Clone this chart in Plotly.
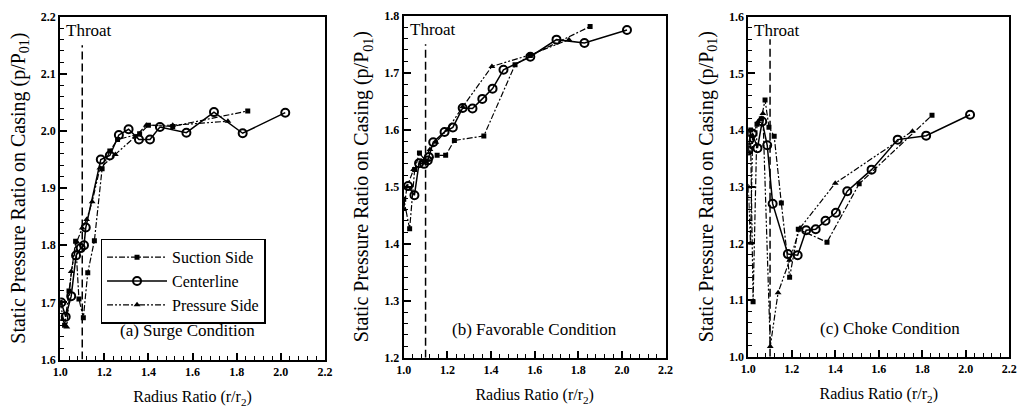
import plotly.graph_objects as go

# ---------------- data ----------------
# (a) Surge condition
a_suc_x = [1.0, 1.02, 1.04, 1.07, 1.085, 1.105, 1.125, 1.155, 1.19, 1.225, 1.26, 1.36, 1.40, 1.51, 1.85]
a_suc_y = [1.70, 1.66, 1.72, 1.807, 1.706, 1.673, 1.752, 1.808, 1.934, 1.965, 1.985, 1.995, 2.01, 2.008, 2.035]
a_cen_x = [1.005, 1.025, 1.05, 1.072, 1.093, 1.108, 1.116, 1.184, 1.225, 1.266, 1.31, 1.357, 1.407, 1.452, 1.572, 1.697, 1.827, 2.02]
a_cen_y = [1.70, 1.675, 1.711, 1.782, 1.795, 1.80, 1.831, 1.95, 1.957, 1.993, 2.003, 1.985, 1.985, 2.007, 1.997, 2.033, 1.996, 2.032]
a_pre_x = [1.01, 1.03, 1.05, 1.075, 1.10, 1.12, 1.145, 1.18, 1.25, 1.34, 1.39, 1.51, 1.76]
a_pre_y = [1.67, 1.657, 1.754, 1.806, 1.83, 1.845, 1.876, 1.935, 1.959, 1.99, 2.01, 2.01, 2.017]

# (b) Favorable condition
b_suc_x = [1.0, 1.027, 1.05, 1.072, 1.10, 1.153, 1.192, 1.232, 1.367, 1.51, 1.58, 1.854]
b_suc_y = [1.478, 1.426, 1.53, 1.559, 1.545, 1.555, 1.555, 1.581, 1.589, 1.714, 1.73, 1.781]
b_cen_x = [1.02, 1.049, 1.07, 1.093, 1.11, 1.115, 1.135, 1.187, 1.225, 1.27, 1.315, 1.36, 1.407, 1.457, 1.58, 1.70, 1.828, 2.023]
b_cen_y = [1.501, 1.485, 1.541, 1.54, 1.546, 1.552, 1.578, 1.596, 1.604, 1.638, 1.637, 1.654, 1.672, 1.705, 1.728, 1.758, 1.752, 1.775]
b_pre_x = [1.0, 1.015, 1.045, 1.08, 1.12, 1.147, 1.20, 1.27, 1.404, 1.577, 1.757]
b_pre_y = [1.46, 1.50, 1.53, 1.545, 1.565, 1.578, 1.60, 1.64, 1.711, 1.731, 1.758]

# (c) Choke condition
c_suc_x = [1.0, 1.01, 1.022, 1.04, 1.06, 1.077, 1.095, 1.119, 1.152, 1.19, 1.23, 1.362, 1.51, 1.845]
c_suc_y = [1.36, 1.40, 1.097, 1.41, 1.42, 1.453, 1.405, 1.389, 1.271, 1.14, 1.225, 1.202, 1.305, 1.426]
c_cen_x = [1.0, 1.005, 1.019, 1.042, 1.064, 1.087, 1.112, 1.182, 1.227, 1.266, 1.31, 1.355, 1.403, 1.455, 1.567, 1.687, 1.818, 2.02]
c_cen_y = [1.364, 1.383, 1.394, 1.368, 1.415, 1.373, 1.27, 1.181, 1.179, 1.223, 1.225, 1.24, 1.254, 1.292, 1.33, 1.383, 1.39, 1.427]
c_pre_x = [1.0, 1.01, 1.02, 1.045, 1.067, 1.101, 1.137, 1.19, 1.238, 1.40, 1.755]
c_pre_y = [1.30, 1.20, 1.39, 1.415, 1.429, 1.018, 1.113, 1.17, 1.227, 1.306, 1.398]

series_names = ["Suction Side", "Centerline", "Pressure Side"]
panel_labels = ["(a) Surge Condition", "(b) Favorable Condition", "(c) Choke Condition"]
x_ticks = [1.0, 1.2, 1.4, 1.6, 1.8, 2.0, 2.2]
y_ranges = [(1.6, 2.2), (1.2, 1.8), (1.0, 1.6)]
throat_x = 1.1
throat_top = [2.15, 1.75, 1.56]
label_pos = [(1.575, 1.657), (1.6, 1.256), (1.65, 1.056)]

panels = [
    (a_suc_x, a_suc_y, a_cen_x, a_cen_y, a_pre_x, a_pre_y),
    (b_suc_x, b_suc_y, b_cen_x, b_cen_y, b_pre_x, b_pre_y),
    (c_suc_x, c_suc_y, c_cen_x, c_cen_y, c_pre_x, c_pre_y),
]

# ---------------- figure ----------------
W, H = 1029, 411
xdoms = [(53 / W, 322 / W), (402 / W, 668 / W), (752 / W, 1017 / W)]
ydoms = [(1 - 365 / H, 1 - 10 / H), (1 - 363 / H, 1 - 9 / H), (1 - 362 / H, 1 - 10 / H)]

FONT = "'Liberation Serif', 'Times New Roman', Times, serif"
fig = go.Figure()

for i, (sx, sy, cx, cy, px, py) in enumerate(panels):
    xa = "x" if i == 0 else f"x{i+1}"
    ya = "y" if i == 0 else f"y{i+1}"
    show = i == 0
    fig.add_trace(go.Scatter(
        x=sx, y=sy, mode="lines+markers", name=series_names[0], xaxis=xa, yaxis=ya,
        line=dict(color="black", width=1.2, dash="6px,2px,2px,2px"),
        marker=dict(symbol="square", size=5, color="black"), showlegend=show))
    fig.add_trace(go.Scatter(
        x=cx, y=cy, mode="lines+markers", name=series_names[1], xaxis=xa, yaxis=ya,
        line=dict(color="black", width=1.5),
        marker=dict(symbol="circle-open", size=8, color="black", line=dict(width=2)),
        showlegend=show))
    fig.add_trace(go.Scatter(
        x=px, y=py, mode="lines+markers", name=series_names[2], xaxis=xa, yaxis=ya,
        line=dict(color="black", width=1.2, dash="6px,2px,2px,2px,2px,2px"),
        marker=dict(symbol="triangle-up", size=6, color="black"), showlegend=show))
    # throat line
    fig.add_trace(go.Scatter(
        x=[throat_x, throat_x], y=[y_ranges[i][0], throat_top[i]], mode="lines",
        xaxis=xa, yaxis=ya, line=dict(color="black", width=1.5, dash="8px,4px"),
        showlegend=False, hoverinfo="skip"))
    fig.add_annotation(x=1.0, y=y_ranges[i][1], xref=xa, yref=ya, text="Throat",
                       showarrow=False, xanchor="left", yanchor="top", yshift=-2, xshift=4,
                       font=dict(family=FONT, size=17, color="black"))
    fig.add_annotation(x=label_pos[i][0], y=label_pos[i][1], xref=xa, yref=ya,
                       text=panel_labels[i], showarrow=False, yshift=-4,
                       font=dict(family=FONT, size=17, color="black"))

    axis_common = dict(showline=True, linecolor="black", linewidth=2, mirror=True,
                       ticks="inside", ticklen=7, tickwidth=1.5, tickcolor="black",
                       showgrid=False, zeroline=False,
                       tickfont=dict(family=FONT, size=12, color="black", weight="bold"))
    xkey = "xaxis" if i == 0 else f"xaxis{i+1}"
    ykey = "yaxis" if i == 0 else f"yaxis{i+1}"
    fig.update_layout({
        xkey: dict(axis_common, domain=list(xdoms[i]), anchor=ya, range=[1.0, 2.2],
                   tickvals=x_ticks, ticktext=[f"{v:.1f}" for v in x_ticks],
                   minor=dict(dtick=0.04, ticks="inside", ticklen=4, tickcolor="black", tickwidth=1),
                   title=dict(text="Radius Ratio (r/r<sub>2</sub>)", standoff=13,
                              font=dict(family=FONT, size=16, color="black"))),
        ykey: dict(axis_common, domain=list(ydoms[i]), anchor=xa, range=list(y_ranges[i]),
                   dtick=0.1, tickformat=".1f",
                   minor=dict(dtick=0.02, ticks="inside", ticklen=4, tickcolor="black", tickwidth=1),
                   title=dict(text="Static Pressure Ratio on Casing (p/P<sub>01</sub>)", standoff=10,
                              font=dict(family=FONT, size=20, color="black"))),
    })

fig.update_layout(
    width=W, height=H, margin=dict(l=0, r=0, t=0, b=0),
    paper_bgcolor="white", plot_bgcolor="white",
    font=dict(family=FONT, color="black"),
    legend=dict(x=94 / W, y=1 - 240 / H, xanchor="left", yanchor="top",
                bordercolor="black", borderwidth=1.5, bgcolor="white",
                font=dict(family=FONT, size=16, color="black"),
                tracegroupgap=0, itemwidth=60),
    showlegend=True,
)

fig.write_html("out.html")
